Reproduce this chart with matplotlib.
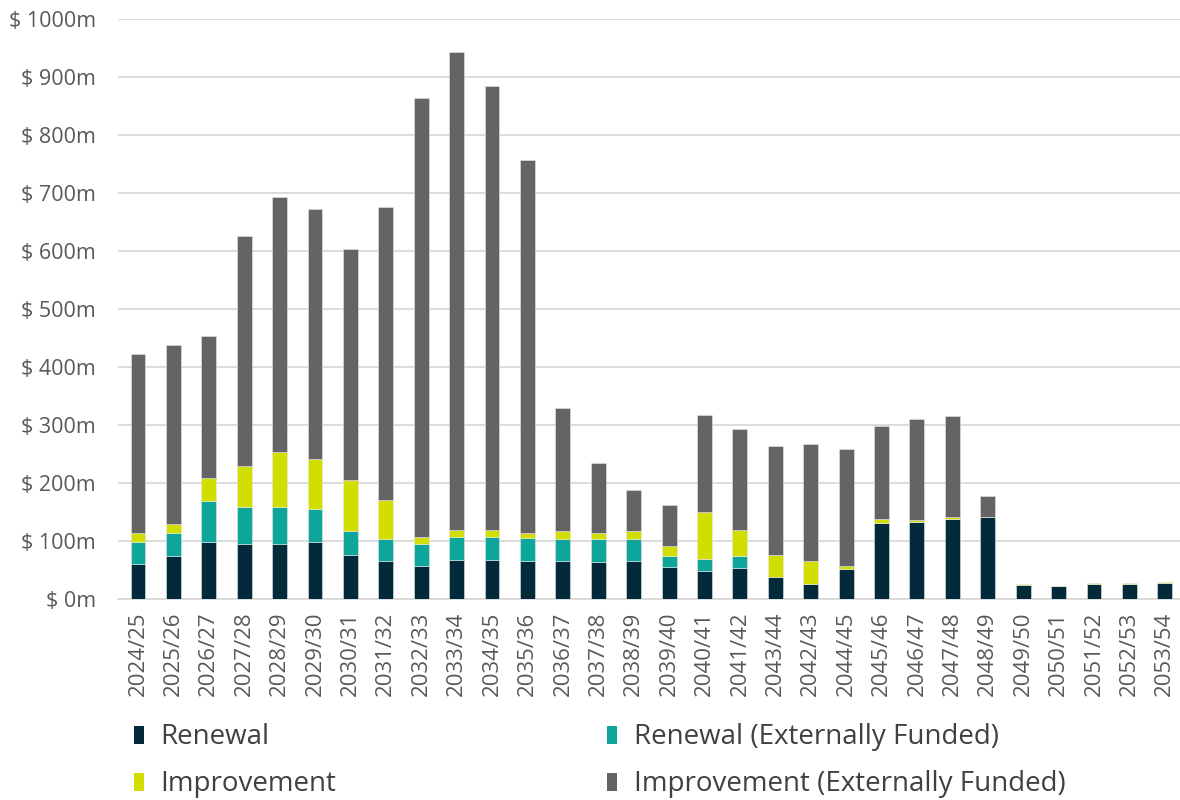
import matplotlib
matplotlib.use("Agg")
import matplotlib.pyplot as plt
import numpy as np

years = ["2024/25", "2025/26", "2026/27", "2027/28", "2028/29", "2029/30", "2030/31",
         "2031/32", "2032/33", "2033/34", "2034/35", "2035/36", "2036/37", "2037/38",
         "2038/39", "2039/40", "2040/41", "2041/42", "2043/44", "2042/43", "2044/45",
         "2045/46", "2046/47", "2047/48", "2048/49", "2049/50", "2050/51", "2051/52",
         "2052/53", "2053/54"]

renewal = [60, 74, 99, 95, 95, 98, 77, 66, 57, 67, 68, 66, 66, 64, 66, 55, 49, 54,
           38, 26, 52, 132, 133, 139, 141, 25, 22, 26, 26, 28]
renewal_ext = [38, 41, 70, 64, 64, 58, 40, 37, 38, 40, 40, 39, 38, 39, 38, 20, 21, 20,
               0, 0, 0, 0, 0, 0, 0, 0, 0, 0, 0, 0]
improvement = [17, 15, 40, 70, 94, 85, 89, 68, 12, 12, 12, 10, 13, 12, 13, 17, 81, 45,
               39, 40, 6, 7, 3, 2, 1.5, 1.5, 1.2, 1.6, 1.6, 1.7]
improvement_ext = [308, 309, 244, 397, 441, 431, 397, 505, 757, 824, 764, 643, 212, 120,
                   71, 71, 166, 175, 187, 201, 201, 159, 174, 175, 35.5, 0, 0, 0, 0, 0]

series_names = ["Renewal", "Renewal (Externally Funded)", "Improvement",
                "Improvement (Externally Funded)"]
colors = ["#022A3A", "#0EA69A", "#D1DE00", "#636463"]

fig = plt.figure(figsize=(11.8, 8), dpi=100)
ax = fig.add_axes([0.1, 0.251, 0.9, 0.725])

x = np.arange(len(years))
width = 0.42
bottom = np.zeros(len(years))
handles = []
for vals, name, col in zip([renewal, renewal_ext, improvement, improvement_ext],
                           series_names, colors):
    v = np.array(vals, dtype=float)
    b = ax.bar(x, v, width, bottom=bottom, color=col, label=name,
               edgecolor="#E6E6E6", linewidth=0.4, zorder=3)
    handles.append(b)
    bottom += v

ax.set_ylim(0, 1000)
ax.set_xlim(-0.565, len(years) - 0.57)
yt = np.arange(0, 1001, 100)
ax.set_yticks(yt)
ax.set_yticklabels([f"$ {v}m" for v in yt], fontfamily="Open Sans", fontsize=15.5,
                   color="#595959")
ax.set_xticks(x)
ax.set_xticklabels(years, rotation=90, fontfamily="Open Sans", fontsize=16,
                   color="#595959")
ax.tick_params(axis="y", length=0, pad=16)
ax.tick_params(axis="x", length=0, pad=9)
ax.grid(axis="y", color="#D9D9D9", linewidth=1.3, zorder=0)
ax.set_axisbelow(True)
for s in ["top", "right", "left"]:
    ax.spines[s].set_visible(False)
ax.spines["bottom"].set_color("#D9D9D9")
ax.spines["bottom"].set_linewidth(1.3)

order = [0, 2, 1, 3]
leg = fig.legend([handles[i] for i in order], [series_names[i] for i in order],
                 ncol=2, loc="upper left", bbox_to_anchor=(0.092, 0.127),
                 frameon=False, prop={"family": "Open Sans", "size": 20},
                 handlelength=0.36, handleheight=0.62, handletextpad=0.6,
                 columnspacing=9.75, labelspacing=0.68, labelcolor="#404040")
for h in leg.legend_handles:
    h.set_edgecolor("none")

fig.savefig("out.png", dpi=100)
